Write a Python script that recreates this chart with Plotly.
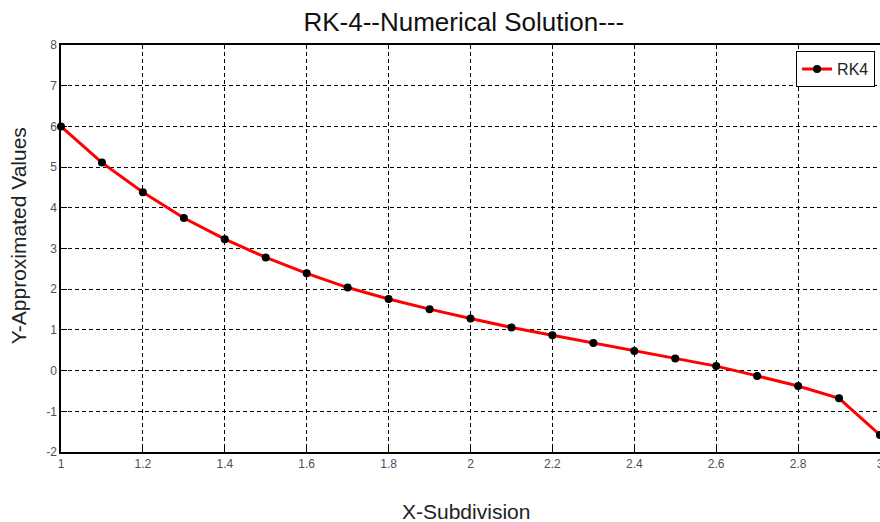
import plotly.graph_objects as go

x_vals = [1.0, 1.1, 1.2, 1.3, 1.4, 1.5, 1.6, 1.7, 1.8, 1.9, 2.0,
          2.1, 2.2, 2.3, 2.4, 2.5, 2.6, 2.7, 2.8, 2.9, 3.0]
y_vals = [6.0, 5.11, 4.38, 3.75, 3.23, 2.78, 2.39, 2.04, 1.76, 1.51, 1.28,
          1.06, 0.87, 0.68, 0.48, 0.30, 0.11, -0.13, -0.38, -0.68, -1.58]
x_ticks = [1, 1.2, 1.4, 1.6, 1.8, 2, 2.2, 2.4, 2.6, 2.8, 3]
y_ticks = [-2, -1, 0, 1, 2, 3, 4, 5, 6, 7, 8]

FONT = "Arial, Liberation Sans, sans-serif"

fig = go.Figure()
fig.add_trace(go.Scatter(
    x=x_vals, y=y_vals, mode="lines+markers", name="RK4",
    line=dict(color="#ff0000", width=3),
    marker=dict(color="black", size=8, symbol="circle"),
    cliponaxis=False,
))

axis_common = dict(
    showline=True, linecolor="black", linewidth=1.5, mirror=True,
    showgrid=True, gridcolor="black", gridwidth=1, griddash="4px,3px",
    zeroline=False, ticks="inside", ticklen=6, tickcolor="black",
    tickfont=dict(family=FONT, size=12, color="#4a5060"),
    ticklabeloverflow="allow", automargin=False,
)

fig.update_xaxes(range=[1, 3], tickvals=x_ticks,
                 ticktext=[f"{v:g}" for v in x_ticks], **axis_common)
fig.update_yaxes(range=[-2, 8], tickvals=y_ticks,
                 ticktext=[str(v) for v in y_ticks], **axis_common)

fig.add_annotation(text="X-Subdivision", xref="paper", yref="paper",
                   x=0.4945, y=-0.145, xanchor="center", yanchor="middle",
                   showarrow=False, font=dict(family=FONT, size=21, color="#222"))
fig.add_annotation(text="Y-Approximated Values", xref="paper", yref="paper",
                   x=-0.052, y=0.531, xanchor="center", yanchor="middle",
                   textangle=-90, showarrow=False,
                   font=dict(family=FONT, size=21, color="#222"))

fig.update_layout(
    width=880, height=522,
    margin=dict(l=61, r=0, t=45, b=70, autoexpand=False),
    paper_bgcolor="white", plot_bgcolor="white",
    title=dict(text="RK-4--Numerical Solution---", x=0.527, xanchor="center",
               y=0.958, yanchor="middle",
               font=dict(family=FONT, size=26, color="#111")),
    showlegend=True,
    legend=dict(x=0.994, y=0.985, xanchor="right", yanchor="top",
                bgcolor="white", bordercolor="black", borderwidth=1,
                font=dict(family=FONT, size=16, color="#222"),
                itemwidth=30, tracegroupgap=0),
)

fig.write_html("out.html")
